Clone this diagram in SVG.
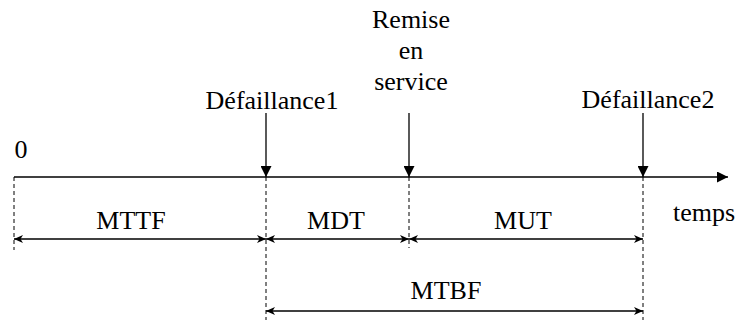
<svg xmlns="http://www.w3.org/2000/svg" width="737" height="320" viewBox="0 0 737 320">
<style>
text{font-family:"Liberation Serif","Times New Roman",serif;font-size:26px;fill:#000;text-anchor:middle}
.ln{stroke:#000;stroke-width:1.3;fill:none}
.ds{stroke:#000;stroke-width:1;stroke-dasharray:4,3;fill:none}
</style>
<defs>
<marker id="tri" viewBox="0 0 10 10" refX="10" refY="5" markerWidth="11" markerHeight="11" markerUnits="userSpaceOnUse" orient="auto">
<path d="M0,0 L10,5 L0,10 z" fill="#000"/>
</marker>
<marker id="dim" viewBox="0 0 10 10" refX="10" refY="5" markerWidth="10" markerHeight="10" markerUnits="userSpaceOnUse" orient="auto-start-reverse">
<path d="M1,1 L10,5 L1,9 L3.5,5 z" fill="#000"/>
</marker>
</defs>
<g id="connectors">
<line class="ln" x1="14" y1="177" x2="728" y2="177" marker-end="url(#tri)"/>
<line class="ds" x1="14" y1="177" x2="14" y2="250"/>
<line class="ds" x1="266" y1="177" x2="266" y2="320"/>
<line class="ds" x1="409" y1="177" x2="409" y2="248"/>
<line class="ds" x1="643" y1="177" x2="643" y2="320"/>
<line class="ln" x1="266" y1="113" x2="266" y2="177" marker-end="url(#tri)"/>
<line class="ln" x1="409" y1="113" x2="409" y2="177" marker-end="url(#tri)"/>
<line class="ln" x1="643" y1="113" x2="643" y2="177" marker-end="url(#tri)"/>
<line class="ln" x1="14" y1="239" x2="266" y2="239" marker-start="url(#dim)" marker-end="url(#dim)"/>
<line class="ln" x1="266" y1="239" x2="409" y2="239" marker-start="url(#dim)" marker-end="url(#dim)"/>
<line class="ln" x1="409" y1="239" x2="643" y2="239" marker-start="url(#dim)" marker-end="url(#dim)"/>
<line class="ln" x1="266" y1="311" x2="643" y2="311" marker-start="url(#dim)" marker-end="url(#dim)"/>
</g>
<g id="zero"><text x="21" y="158">0</text></g>
<g id="defaillance1"><text x="272" y="109">Défaillance1</text></g>
<g id="remise"><text x="411" y="28">Remise</text><text x="411" y="59">en</text><text x="411" y="90">service</text></g>
<g id="defaillance2"><text x="648" y="108">Défaillance2</text></g>
<g id="temps"><text x="704" y="221">temps</text></g>
<g id="mttf"><text x="131" y="229">MTTF</text></g>
<g id="mdt"><text x="336" y="229">MDT</text></g>
<g id="mut"><text x="523" y="229">MUT</text></g>
<g id="mtbf"><text x="446" y="299">MTBF</text></g>
</svg>
